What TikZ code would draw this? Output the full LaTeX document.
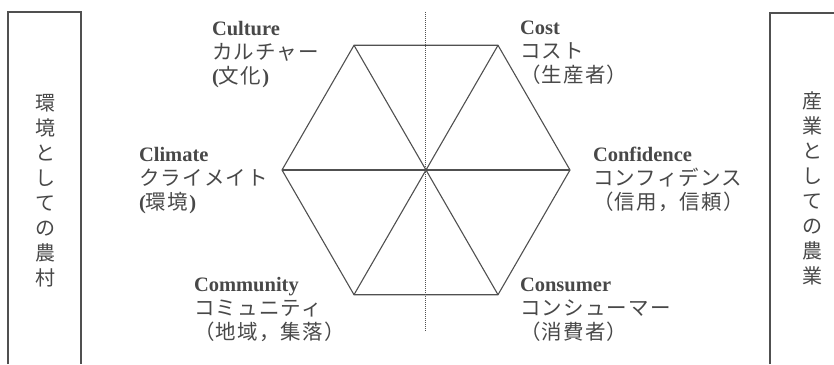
\documentclass[tikz,border=0pt]{standalone}
\usepackage{fontspec}
\usetikzlibrary{calc}
\setmainfont{Liberation Serif}
\newfontfamily\jp[LetterSpace=6]{Noto Sans CJK JP}
\newfontfamily\jpv{Noto Sans CJK JP}
\definecolor{inkgray}{HTML}{484848}
\definecolor{linegray}{HTML}{505050}
\tikzset{
  hexline/.style={draw=linegray,line width=1.1pt,line join=miter},
  boxline/.style={draw=linegray,line width=1.1pt},
  axisline/.style={draw=linegray,line width=0.8pt,dash pattern=on 1pt off 1pt},
  cword/.style={anchor=north west,inner sep=0pt,outer sep=0pt,align=left,
    text=inkgray,font=\fontsize{20.5}{24}\selectfont},
  jpsize/.style={},
  sideword/.style={inner sep=0pt,align=center,text=inkgray,
    font=\jpv\fontsize{20}{25}\selectfont}
}
\newcommand\jw[1]{{\jp\fontsize{20.5}{24}\selectfont #1}}
\begin{document}
\begin{tikzpicture}[x=1pt,y=1pt,yscale=-1]
\useasboundingbox (0,0) rectangle (834,364);
% hexagon
\coordinate (hc) at (426,170);
\coordinate (vR) at ($(hc)+(0:144)$);
\coordinate (vTR) at ($(hc)+(-60:144)$);
\coordinate (vTL) at ($(hc)+(-120:144)$);
\coordinate (vL) at ($(hc)+(180:144)$);
\coordinate (vBL) at ($(hc)+(120:144)$);
\coordinate (vBR) at ($(hc)+(60:144)$);
\path[hexline] (vR) -- (vTR) -- (vTL) -- (vL) -- (vBL) -- (vBR) -- cycle;
\path[hexline] (vTL) -- (vBR);
\path[hexline] (vTR) -- (vBL);
\path[hexline] (vL) -- (vR);
% dotted axis
\coordinate (axtop) at (425,12);
\coordinate (axbot) at (425,332);
\path[axisline] (axtop) -- (axbot);

% side boxes
\path[boxline] (8,364) |- (81,12) -- (81,364);
\path[boxline] (770,364) |- (834,13);
\node[sideword] (rural) at (45,191) {環\\境\\と\\し\\て\\の\\農\\村};
\node[sideword] (industry) at (812,188) {産\\業\\と\\し\\て\\の\\農\\業};

% labels
\node[cword] (culture) at (212,21)
  {\textbf{Culture}\\\jw{カルチャー}\\\textbf{(}\jw{文化}\textbf{)}};
\node[cword] (cost) at (520,21)
  {\textbf{Cost}\\\jw{コスト}\\\jw{（生産者）}};
\node[cword] (climate) at (139,147)
  {\textbf{Climate}\\\jw{クライメイト}\\\textbf{(}\jw{環境}\textbf{)}};
\node[cword] (confidence) at (593,147)
  {\textbf{Confidence}\\\jw{コンフィデンス}\\\jw{（信用，信頼）}};
\node[cword] (community) at (194,277)
  {\textbf{Community}\\\jw{コミュニティ}\\\jw{（地域，集落）}};
\node[cword] (consumer) at (520,278)
  {\textbf{Consumer}\\\jw{コンシューマー}\\\jw{（消費者）}};
\end{tikzpicture}
\end{document}
